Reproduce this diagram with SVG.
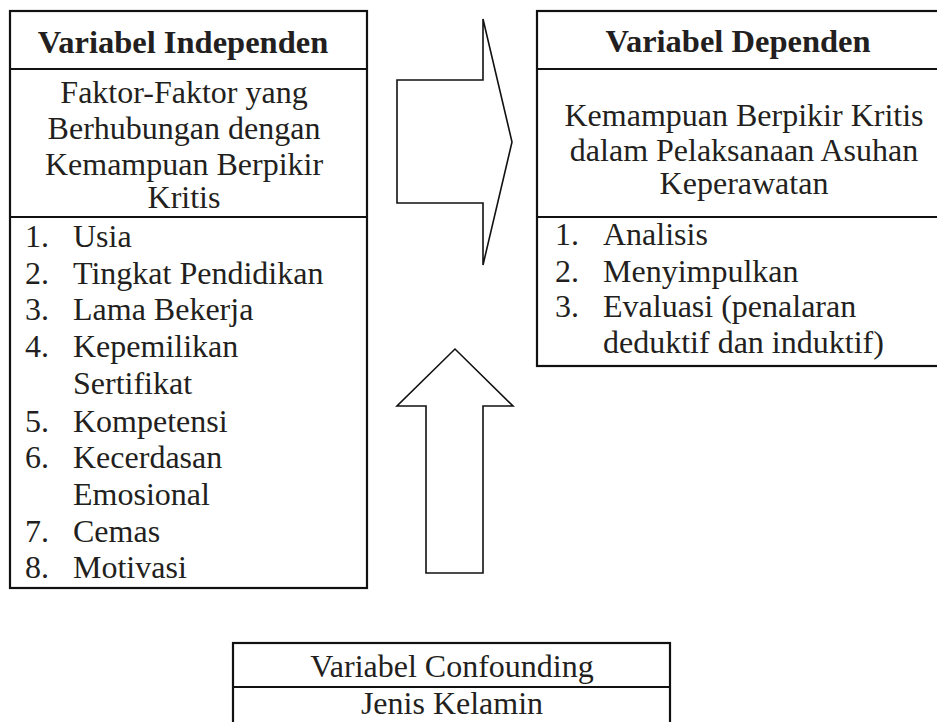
<svg xmlns="http://www.w3.org/2000/svg" width="937" height="722" viewBox="0 0 937 722">
<style>
.box{fill:none;stroke:#111;stroke-width:2.2}
.div{stroke:#111;stroke-width:2.2}
.arr{fill:#fff;stroke:#111;stroke-width:1.6;stroke-linejoin:miter}
text{font-family:"Liberation Serif","Times New Roman",serif;font-size:32px;fill:#231f20}
.h{font-weight:bold;font-size:32.5px;text-anchor:middle}
.c{text-anchor:middle}
</style>
<rect width="937" height="722" fill="#fff"/>
<g id="connectors">
<path class="arr" d="M397,80 H483 V19 L512,142 L483,265 V203 H397 Z"/>
<path class="arr" d="M426,573 V406 H397 L455,349 L513,406 H483 V573 Z"/>
</g>
<g id="independen">
<rect class="box" x="10" y="11" width="357" height="577"/>
<line class="div" x1="10" y1="69" x2="367" y2="69"/>
<line class="div" x1="10" y1="217" x2="367" y2="217"/>
<text class="h" x="183" y="53">Variabel Independen</text>
<text class="c" x="184" y="103">Faktor-Faktor yang</text>
<text class="c" x="184" y="139">Berhubungan dengan</text>
<text class="c" x="184" y="175">Kemampuan Berpikir</text>
<text class="c" x="184" y="208">Kritis</text>
<text x="25" y="247">1.</text><text x="73" y="247">Usia</text>
<text x="25" y="284">2.</text><text x="73" y="284">Tingkat Pendidikan</text>
<text x="25" y="320">3.</text><text x="73" y="320">Lama Bekerja</text>
<text x="25" y="357">4.</text><text x="73" y="357">Kepemilikan</text>
<text x="73" y="394">Sertifikat</text>
<text x="25" y="432">5.</text><text x="73" y="432">Kompetensi</text>
<text x="25" y="468">6.</text><text x="73" y="468">Kecerdasan</text>
<text x="73" y="505">Emosional</text>
<text x="25" y="542">7.</text><text x="73" y="542">Cemas</text>
<text x="25" y="578">8.</text><text x="73" y="578">Motivasi</text>
</g>
<g id="dependen">
<rect class="box" x="537" y="11" width="412" height="355"/>
<line class="div" x1="537" y1="69" x2="949" y2="69"/>
<line class="div" x1="537" y1="217" x2="949" y2="217"/>
<text class="h" x="738" y="52">Variabel Dependen</text>
<text class="c" x="744" y="126">Kemampuan Berpikir Kritis</text>
<text class="c" x="744" y="161">dalam Pelaksanaan Asuhan</text>
<text class="c" x="744" y="194">Keperawatan</text>
<text x="555" y="245">1.</text><text x="603" y="245">Analisis</text>
<text x="555" y="282">2.</text><text x="603" y="282">Menyimpulkan</text>
<text x="555" y="317">3.</text><text x="603" y="317">Evaluasi (penalaran</text>
<text x="603" y="353">deduktif dan induktif)</text>
</g>
<g id="confounding">
<rect class="box" x="233" y="643" width="437" height="90"/>
<line class="div" x1="233" y1="687" x2="670" y2="687"/>
<text class="c" x="452" y="677">Variabel Confounding</text>
<text class="c" x="452" y="714">Jenis Kelamin</text>
</g>
</svg>
